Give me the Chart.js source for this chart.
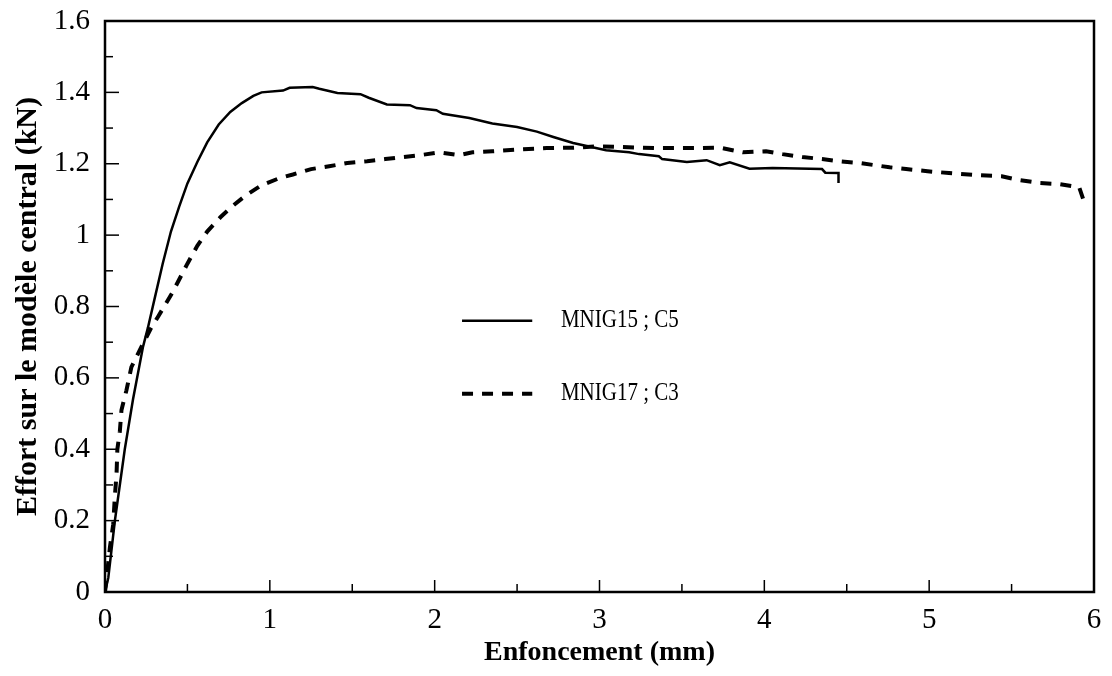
<!DOCTYPE html>
<html>
<head>
<meta charset="utf-8">
<script src="https://cdn.jsdelivr.net/npm/chart.js@4"></script>
<style>
    html, body { margin: 0; padding: 0; background: #fff; }
    #wrap { width: 1112px; height: 676px; }
</style>
</head>
<body>
<div id="wrap"><canvas id="chart" width="1112" height="676"></canvas></div>
<script>
// MNIG15 ; C5 (solid)
const mnig15X = [0, 0.02, 0.06, 0.12, 0.17, 0.23, 0.26, 0.3, 0.35, 0.4, 0.45, 0.5, 0.56, 0.62, 0.69, 0.76, 0.83, 0.9, 0.95,
    1.08, 1.12, 1.26, 1.3, 1.41, 1.55, 1.6, 1.71, 1.85, 1.89, 2.01, 2.05, 2.21, 2.35, 2.5, 2.62, 2.72, 2.84, 3.04, 3.18,
    3.24, 3.36, 3.38, 3.53, 3.65, 3.73, 3.79, 3.91, 4.05, 4.35, 4.37, 4.45, 4.45];
const mnig15Y = [0, 0.04, 0.2, 0.4, 0.54, 0.686, 0.74, 0.82, 0.92, 1.01, 1.08, 1.145, 1.205, 1.26, 1.31, 1.345, 1.37, 1.39, 1.4,
    1.405, 1.413, 1.415, 1.41, 1.398, 1.395, 1.385, 1.366, 1.364, 1.356, 1.35, 1.34, 1.328, 1.313, 1.303, 1.29, 1.275, 1.258, 1.238, 1.232,
    1.227, 1.221, 1.213, 1.205, 1.21, 1.196, 1.204, 1.186, 1.188, 1.185, 1.175, 1.174, 1.146];

// MNIG17 ; C3 (dashed)
const mnig17X = [0, 0.01, 0.03, 0.05, 0.06, 0.07, 0.075, 0.09, 0.1, 0.13, 0.16, 0.22, 0.28, 0.32, 0.41, 0.5, 0.56, 0.62, 0.7,
    0.77, 0.85, 0.95, 1.06, 1.14, 1.25, 1.36, 1.47, 1.59, 1.7, 1.79, 1.91, 2.03, 2.15, 2.23, 2.35, 2.5, 2.68, 2.84, 3.0, 3.12,
    3.35, 3.61, 3.73, 3.87, 4.01, 4.11, 4.23, 4.35, 4.45, 4.58, 4.76, 4.86, 4.99, 5.12, 5.3, 5.44, 5.55, 5.67, 5.79, 5.91, 5.95];
const mnig17Y = [0, 0.04, 0.126, 0.19, 0.27, 0.33, 0.4, 0.45, 0.51, 0.565, 0.63, 0.686, 0.74, 0.77, 0.84, 0.92, 0.97, 1.01, 1.05,
    1.08, 1.11, 1.14, 1.16, 1.17, 1.185, 1.193, 1.202, 1.207, 1.213, 1.218, 1.224, 1.232, 1.224, 1.232, 1.235, 1.24, 1.244, 1.245, 1.249, 1.247,
    1.244, 1.244, 1.245, 1.232, 1.235, 1.227, 1.219, 1.213, 1.207, 1.202, 1.19, 1.185, 1.179, 1.174, 1.168, 1.165, 1.154, 1.146, 1.143, 1.134, 1.08];

const seriesNames = ['MNIG15 ; C5', 'MNIG17 ; C3'];
const xTickLabels = ['0', '1', '2', '3', '4', '5', '6'];
const yTickLabels = ['0', '0.2', '0.4', '0.6', '0.8', '1', '1.2', '1.4', '1.6'];

const toPoints = (xs, ys) => xs.map((x, i) => ({ x: x, y: ys[i] }));
const SERIF = '"Liberation Serif", "Times New Roman", serif';

// frame, inward ticks and the legend placed inside the plot
const framePlugin = {
    id: 'frame',
    afterDraw(chart) {
        const { ctx, chartArea: a, scales } = chart;
        const xs = scales.x, ys = scales.y;
        ctx.save();
        ctx.strokeStyle = '#000';
        ctx.lineWidth = 1.5;
        for (let v = 0; v <= 6.001; v += 0.5) {
            const px = xs.getPixelForValue(v);
            const len = Math.abs(v - Math.round(v)) < 1e-6 ? 12 : 8;
            ctx.beginPath();
            ctx.moveTo(px, a.bottom);
            ctx.lineTo(px, a.bottom - len);
            ctx.stroke();
        }
        for (let v = 0; v <= 1.601; v += 0.1) {
            const py = ys.getPixelForValue(v);
            const len = Math.round(v * 10) % 2 === 0 ? 14 : 8;
            ctx.beginPath();
            ctx.moveTo(a.left, py);
            ctx.lineTo(a.left + len, py);
            ctx.stroke();
        }
        ctx.lineWidth = 2.5;
        ctx.strokeRect(a.left, a.top, a.right - a.left, a.bottom - a.top);

        // legend
        const w = a.right - a.left, h = a.bottom - a.top;
        const x0 = a.left + w * 0.361, x1 = a.left + w * 0.432, tx = a.left + w * 0.461;
        const rows = [a.top + h * 0.525, a.top + h * 0.653];
        chart.data.datasets.forEach((ds, i) => {
            ctx.lineWidth = ds.borderWidth;
            ctx.setLineDash(ds.borderDash || []);
            ctx.beginPath();
            ctx.moveTo(x0, rows[i]);
            ctx.lineTo(x1, rows[i]);
            ctx.stroke();
            ctx.setLineDash([]);
            // slightly condensed text, as in the scan
            ctx.save();
            ctx.translate(tx, rows[i]);
            ctx.scale(0.84, 1);
            ctx.font = '25px ' + SERIF;
            ctx.fillStyle = '#000';
            ctx.textBaseline = 'middle';
            ctx.fillText(ds.label, 0, 0);
            ctx.restore();
        });
        ctx.restore();
    }
};

new Chart(document.getElementById('chart'), {
    type: 'line',
    data: {
        datasets: [
            {
                label: seriesNames[0],
                data: toPoints(mnig15X, mnig15Y),
                borderColor: '#000',
                borderWidth: 2.5,
                pointRadius: 0,
                tension: 0,
                fill: false
            },
            {
                label: seriesNames[1],
                data: toPoints(mnig17X, mnig17Y),
                borderColor: '#000',
                borderWidth: 4,
                borderDash: [11, 9],
                pointRadius: 0,
                tension: 0,
                fill: false
            }
        ]
    },
    options: {
        responsive: false,
        animation: false,
        layout: { padding: { top: 21, right: 18, left: 0, bottom: 0 } },
        plugins: {
            legend: { display: false },
            tooltip: { enabled: false }
        },
        scales: {
            x: {
                type: 'linear',
                min: 0,
                max: 6,
                grid: { display: false, drawTicks: false },
                border: { display: false },
                ticks: {
                    stepSize: 1,
                    padding: 11,
                    color: '#000',
                    font: { family: SERIF, size: 29 },
                    callback: (v) => xTickLabels[Math.round(v)]
                },
                title: {
                    display: true,
                    text: 'Enfoncement (mm)',
                    color: '#000',
                    font: { family: SERIF, size: 28, weight: 'bold' },
                    padding: { top: 0, bottom: 6 }
                },
                afterFit: (scale) => {
                    scale.height = 84;
                    scale.paddingLeft = 0;
                    scale.paddingRight = 0;
                }
            },
            y: {
                min: 0,
                max: 1.6,
                grid: { display: false, drawTicks: false },
                border: { display: false },
                ticks: {
                    stepSize: 0.2,
                    padding: 15,
                    color: '#000',
                    font: { family: SERIF, size: 29 },
                    callback: (v) => yTickLabels[Math.round(v * 5)]
                },
                title: {
                    display: true,
                    text: 'Effort sur le modèle central (kN)',
                    color: '#000',
                    font: { family: SERIF, size: 30, weight: 'bold' },
                    padding: { top: 10, bottom: 0 }
                },
                afterFit: (scale) => {
                    scale.width = 105;
                    scale.paddingTop = 0;
                    scale.paddingBottom = 0;
                }
            }
        }
    },
    plugins: [framePlugin]
});
</script>
</body>
</html>
